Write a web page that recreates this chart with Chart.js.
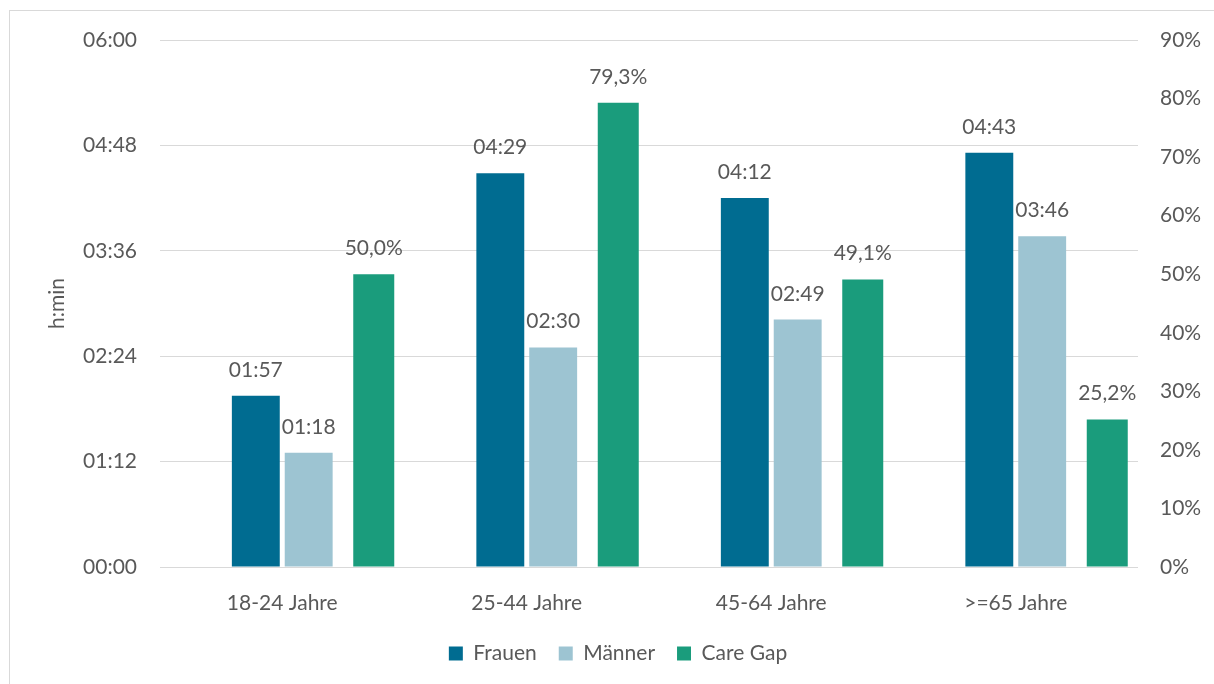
<!DOCTYPE html>
<html lang="de">
<head>
<meta charset="utf-8">
<title>Care Gap nach Altersgruppen</title>
<script src="https://cdn.jsdelivr.net/npm/chart.js@4.4.1/dist/chart.umd.min.js"></script>
<style>
  html, body { margin: 0; padding: 0; background: #fff; overflow: hidden; }
  #wrap { position: relative; width: 1214px; height: 684px; }
  #frame { position: absolute; left: 9px; top: 10px; width: 1300px; height: 800px; border: 1px solid #d9d9d9; box-sizing: border-box; }
  canvas { position: absolute; left: 0; top: 0; }
</style>
</head>
<body>
<div id="wrap">
  <div id="frame"></div>
  <canvas id="chart" width="1214" height="684"></canvas>
</div>
<script>
const ageGroups = ['18-24 Jahre', '25-44 Jahre', '45-64 Jahre', '>=65 Jahre'];
// minutes per day
const frauenMin = [117, 269, 252, 283];
const maennerMin = [78, 150, 169, 226];
// percent
const careGapPct = [50.0, 79.3, 49.1, 25.2];

const textColor = '#595959';
const font = { family: 'Lato, Carlito, Calibri, sans-serif', size: 21 };

const hhmm = (m) => {
  const h = Math.floor(m / 60);
  const r = Math.round(m - h * 60);
  return String(h).padStart(2, '0') + ':' + String(r).padStart(2, '0');
};
const pct = (v) => v.toFixed(1).replace('.', ',') + '%';

// value labels above each bar
const barLabels = {
  id: 'barLabels',
  afterDatasetsDraw(chart) {
    const ctx = chart.ctx;
    ctx.save();
    ctx.font = `${font.size}px ${font.family}`;
    ctx.fillStyle = textColor;
    ctx.textAlign = 'center';
    ctx.textBaseline = 'alphabetic';
    chart.data.datasets.forEach((ds, i) => {
      if (!ds.fmt) return;
      chart.getDatasetMeta(i).data.forEach((bar, j) => {
        ctx.fillText(ds.fmt(ds.data[j]), bar.x, bar.y - 19);
      });
    });
    ctx.restore();
  }
};

new Chart(document.getElementById('chart'), {
  type: 'bar',
  data: {
    labels: ageGroups,
    datasets: [
      // invisible first slot so the pair sits around the category centre
      { label: '', data: ageGroups.map(() => 0), backgroundColor: 'rgba(0,0,0,0)', yAxisID: 'y',
        categoryPercentage: 0.865, barPercentage: 0.9 },
      { label: 'Frauen', data: frauenMin, backgroundColor: '#006c91', yAxisID: 'y',
        categoryPercentage: 0.865, barPercentage: 0.906, fmt: hhmm },
      { label: 'Männer', data: maennerMin, backgroundColor: '#9dc4d2', yAxisID: 'y',
        categoryPercentage: 0.865, barPercentage: 0.906, fmt: hhmm },
      { label: 'Care Gap', data: careGapPct, backgroundColor: '#1a9c7c', yAxisID: 'y1',
        categoryPercentage: 0.998, barPercentage: 0.672, fmt: pct }
    ]
  },
  options: {
    responsive: false,
    animation: false,
    devicePixelRatio: 1,
    layout: { padding: { left: 22, right: 0, top: 40, bottom: 10 } },
    plugins: {
      tooltip: { enabled: false },
      legend: {
        position: 'bottom',
        labels: {
          color: textColor, font, boxWidth: 14, boxHeight: 14, padding: 22,
          filter: (item) => item.text !== ''
        }
      }
    },
    scales: {
      x: {
        offset: true,
        grid: { display: false, drawTicks: false },
        border: { display: false },
        ticks: { color: textColor, font, padding: 24 },
        afterFit: (s) => { s.height = 54; }
      },
      y: {
        position: 'left',
        min: 0, max: 360,
        grid: { color: '#d9d9d9', drawTicks: false },
        border: { display: false },
        ticks: { stepSize: 72, color: textColor, font, padding: 23, callback: (v) => hhmm(v) },
        title: { display: true, text: 'h:min', color: textColor, font, padding: { top: 23, bottom: 0 } },
        afterFit: (s) => { s.width = 138; }
      },
      y1: {
        position: 'right',
        min: 0, max: 90,
        grid: { drawOnChartArea: false, drawTicks: false },
        border: { display: false },
        ticks: { stepSize: 10, color: textColor, font, padding: 22, callback: (v) => v + '%' },
        afterFit: (s) => { s.width = 76; }
      }
    }
  },
  plugins: [barLabels]
});
</script>
</body>
</html>
